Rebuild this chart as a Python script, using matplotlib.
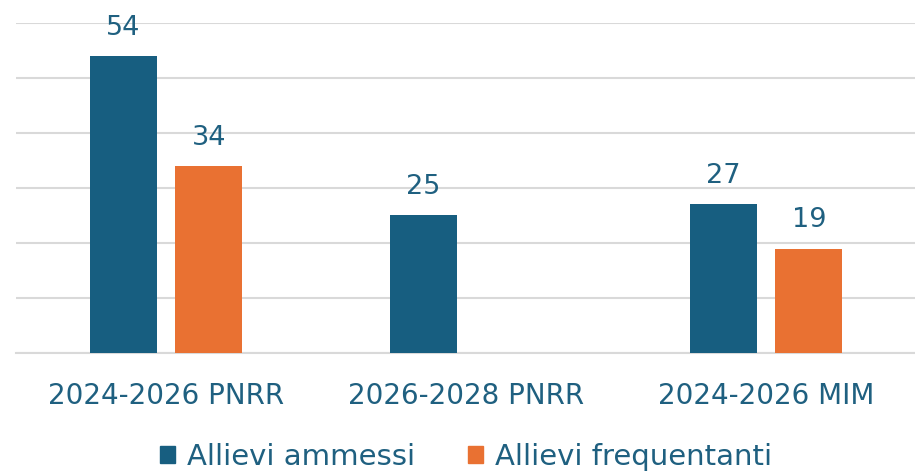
import matplotlib
matplotlib.use("Agg")
import matplotlib.pyplot as plt
import numpy as np
from matplotlib.patches import Patch

categories = ["2024-2026 PNRR", "2026-2028 PNRR", "2024-2026 MIM"]
series_names = ["Allievi ammessi", "Allievi frequentanti"]
ammessi = [54, 25, 27]
frequentanti = [34, None, 19]

blue = "#175E80"
orange = "#E97132"
text_color = "#1F6080"
grid_color = "#D9D9D9"

plt.rcParams['font.family'] = ['DejaVu Sans']

W, H = 915, 473
fig = plt.figure(figsize=(W / 100, H / 100), dpi=100)
ax = fig.add_axes([16 / W, (H - 353) / H, 900 / W, 330 / H])

x = np.arange(len(categories))
bw = 0.223
gap = 0.063
off = (bw + gap) / 2

for vals, color, sign in [(ammessi, blue, -1), (frequentanti, orange, 1)]:
    for i, v in enumerate(vals):
        if v is None:
            continue
        ax.bar(x[i] + sign * off, v, width=bw, color=color, zorder=3)
        ax.text(x[i] + sign * off, v + 2.8, str(v), ha="center", va="bottom",
                fontsize=19.5, color=text_color, zorder=4)

ax.set_xlim(-0.5, 2.5)
ax.set_ylim(0, 60)
ax.set_yticks(np.arange(0, 61, 10))
ax.yaxis.grid(True, color=grid_color, linewidth=1.5, zorder=0)
ax.tick_params(axis="y", left=False, labelleft=False)
ax.set_xticks(x)
ax.set_xticklabels(categories, fontsize=20, color=text_color)
ax.tick_params(axis="x", length=0, pad=21)
for s in ["top", "right", "left"]:
    ax.spines[s].set_visible(False)
ax.spines["bottom"].set_color(grid_color)
ax.spines["bottom"].set_linewidth(1.5)

handles = [Patch(color=blue), Patch(color=orange)]
fig.legend(handles, series_names, loc="center", bbox_to_anchor=(466 / W, 1 - 457 / H),
           ncol=2, frameon=False, fontsize=21, labelcolor=text_color,
           handlelength=0.52, handleheight=0.52, handletextpad=0.4, columnspacing=1.8,
           borderpad=0, borderaxespad=0)

fig.savefig("out.png", dpi=100, facecolor="white")
